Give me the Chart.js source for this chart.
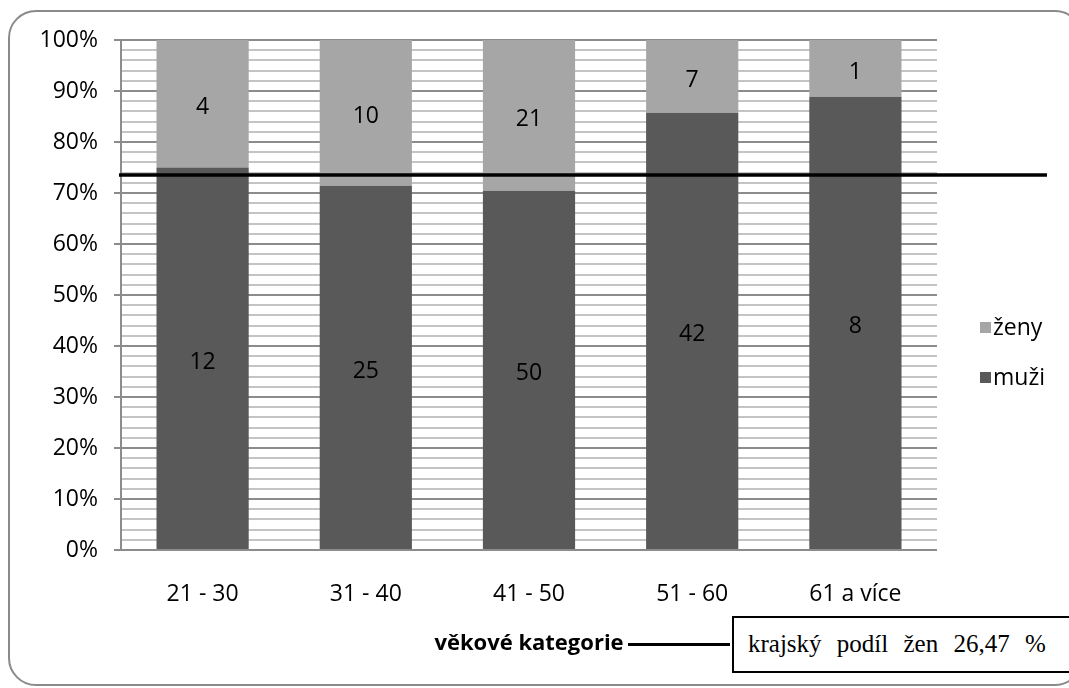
<!DOCTYPE html>
<html>
<head>
<meta charset="utf-8">
<script src="https://cdn.jsdelivr.net/npm/chart.js@4.4.1/dist/chart.umd.min.js"></script>
<style>
  html, body { margin: 0; padding: 0; background: #fff; }
  #wrap { position: relative; width: 1069px; height: 688px; overflow: hidden; }
  #frame { position: absolute; left: 8px; top: 10px; width: 1075px; height: 676px; border: 2px solid #8a8a8a; border-radius: 28px; box-sizing: border-box; }
  canvas { position: absolute; left: 0; top: 0; }
  #note { position: absolute; left: 732px; top: 616px; width: 360px; height: 57px; border: 2px solid #000; box-sizing: border-box; background: #fff;
          font-family: "Liberation Serif", "Times New Roman", serif; font-size: 25px; word-spacing: 9px; line-height: 51px; padding-left: 14px; color: #000; }
  #connector { position: absolute; left: 628px; top: 643px; width: 102px; height: 3px; background: #000; }
</style>
</head>
<body>
<div id="wrap">
  <div id="frame"></div>
  <canvas id="c" width="1069" height="688"></canvas>
  <div id="connector"></div>
  <div id="note"></div>
</div>
<script>
const categories = ["21 - 30", "31 - 40", "41 - 50", "51 - 60", "61 a více"];
const menCounts = [12, 25, 50, 42, 8];
const womenCounts = [4, 10, 21, 7, 1];
const seriesNames = ["muži", "ženy"];
const regionalWomenShare = 26.47;
const axisTitle = "věkové kategorie";
const noteText = "krajský podíl žen 26,47 %";

document.getElementById('note').textContent = noteText;

const totals = categories.map((_, i) => menCounts[i] + womenCounts[i]);
const menPct = menCounts.map((v, i) => v / totals[i] * 100);
const womenPct = womenCounts.map((v, i) => v / totals[i] * 100);

const FONT = '"Open Sans", "Liberation Sans", sans-serif';

const labelPlugin = {
  id: 'segLabels',
  afterDatasetsDraw(chart) {
    const ctx = chart.ctx;
    ctx.save();
    ctx.fillStyle = '#000';
    ctx.font = '23px ' + FONT;
    ctx.textAlign = 'center';
    ctx.textBaseline = 'middle';
    chart.data.datasets.forEach((ds, di) => {
      const meta = chart.getDatasetMeta(di);
      meta.data.forEach((bar, i) => {
        const y = (bar.y + bar.base) / 2 + 4;
        ctx.fillText(String(ds.counts[i]), bar.x, y);
      });
    });
    ctx.restore();
  },
  afterDraw(chart) {
    const ctx = chart.ctx;
    const y = chart.scales.y.getPixelForValue(100 - regionalWomenShare);
    ctx.save();
    ctx.strokeStyle = '#000';
    ctx.lineWidth = 3.5;
    ctx.beginPath();
    ctx.moveTo(119, y);
    ctx.lineTo(1047, y);
    ctx.stroke();
    // legend
    const items = [
      { name: seriesNames[1], color: '#a6a6a6', y: 327 },
      { name: seriesNames[0], color: '#595959', y: 377 }
    ];
    ctx.font = '23px ' + FONT;
    ctx.textAlign = 'left';
    ctx.textBaseline = 'middle';
    items.forEach(it => {
      ctx.fillStyle = it.color;
      ctx.fillRect(980, it.y - 5, 11, 11);
      ctx.fillStyle = '#000';
      ctx.fillText(it.name, 993, it.y + 1);
    });
    ctx.restore();
  }
};

new Chart(document.getElementById('c'), {
  type: 'bar',
  data: {
    labels: categories,
    datasets: [
      { label: seriesNames[0], data: menPct, counts: menCounts, backgroundColor: '#595959', borderWidth: 0,
        categoryPercentage: 1, barPercentage: 0.565 },
      { label: seriesNames[1], data: womenPct, counts: womenCounts, backgroundColor: '#a6a6a6', borderWidth: 0,
        categoryPercentage: 1, barPercentage: 0.565 }
    ]
  },
  options: {
    responsive: false,
    animation: false,
    devicePixelRatio: 1,
    layout: { padding: { left: 0, right: 132, top: 40, bottom: 0 } },
    plugins: { legend: { display: false }, tooltip: { enabled: false } },
    scales: {
      x: {
        stacked: true,
        grid: { display: false },
        border: { display: false },
        ticks: { color: '#000', font: { family: FONT, size: 23 }, padding: 23 },
        title: { display: true, text: axisTitle, color: '#000', font: { family: FONT, size: 22, weight: 'bold' }, padding: { top: 0, bottom: 31 } },
        afterFit(s) { s.height = 138; }
      },
      y: {
        stacked: true,
        min: 0, max: 100,
        ticks: {
          stepSize: 2, autoSkip: false, color: '#000', padding: 16,
          font: { family: FONT, size: 23 },
          callback: v => (Math.round(v) % 10 === 0 ? Math.round(v) + '%' : '')
        },
        grid: {
          lineWidth: 2,
          tickLength: 7,
          color: c => (Math.round(c.tick.value) % 10 === 0 ? '#8c8c8c' : '#c4c4c4'),
          tickColor: c => (Math.round(c.tick.value) % 10 === 0 ? '#8c8c8c' : 'rgba(0,0,0,0)')
        },
        border: { color: '#8c8c8c', width: 2 },
        afterFit(s) { s.width = 121; }
      }
    }
  },
  plugins: [labelPlugin]
});
</script>
</body>
</html>
